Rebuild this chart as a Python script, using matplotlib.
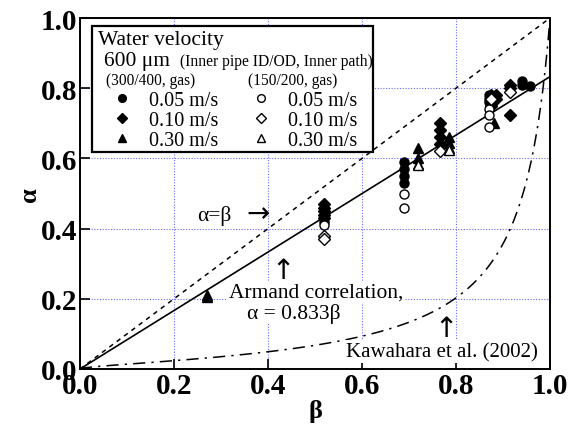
import numpy as np
import matplotlib
matplotlib.use("Agg")
import matplotlib.pyplot as plt
from matplotlib.patches import Rectangle

plt.rcParams['font.family'] = ['Liberation Serif', 'DejaVu Serif']
plt.rcParams['mathtext.fontset'] = 'stix'

# ---- data ----
# 300/400 (gas) -- filled markers
fc_beta = [0.69, 0.69, 0.69, 0.69, 0.87, 0.87, 0.87, 0.94, 0.94, 0.957, 0.52]
fc_alpha = [0.59, 0.57, 0.55, 0.53, 0.78, 0.77, 0.76, 0.82, 0.81, 0.805, 0.42]
fd_beta = [0.52, 0.52, 0.52, 0.52, 0.52, 0.765, 0.765, 0.765, 0.765,
           0.875, 0.875, 0.875, 0.885, 0.885, 0.915, 0.915, 0.915]
fd_alpha = [0.47, 0.46, 0.45, 0.44, 0.43, 0.70, 0.68, 0.66, 0.64,
            0.78, 0.76, 0.75, 0.78, 0.77, 0.81, 0.80, 0.725]
ft_beta = [0.27, 0.27, 0.72, 0.72, 0.785, 0.785, 0.88]
ft_alpha = [0.21, 0.205, 0.63, 0.60, 0.66, 0.645, 0.70]
# 150/200 (gas) -- open markers
oc_beta = [0.69, 0.69, 0.87, 0.87, 0.87, 0.52]
oc_alpha = [0.50, 0.46, 0.74, 0.725, 0.69, 0.41]
od_beta = [0.52, 0.52, 0.765, 0.915, 0.875]
od_alpha = [0.38, 0.37, 0.62, 0.79, 0.77]
ot_beta = [0.72, 0.72, 0.785, 0.785]
ot_alpha = [0.585, 0.58, 0.63, 0.625]

vel_labels = ["0.05 m/s", "0.10 m/s", "0.30 m/s"]
armand_c = 0.833

fig = plt.figure(figsize=(5.68, 4.35), dpi=100)
ax = fig.add_axes([80/568, 1-370/435, 470/568, 351/435])
ax.set_xlim(0, 1)
ax.set_ylim(0, 1)

gridc = '#6a6aff'
ax.grid(True, color=gridc, linestyle=(0, (1, 1.5)), linewidth=0.8)
ax.set_axisbelow(True)

# lines
ax.plot([0, 1], [0, 1], color='black', linestyle=(0, (3, 3)), linewidth=1.1, zorder=3)
ax.plot([0, 1], [0, armand_c], color='black', linestyle='-', linewidth=1.2, zorder=3)
bk = np.linspace(0, 0.9995, 600)
sk = np.sqrt(bk)
ak = 0.03 * sk / (1 - 0.97 * sk)
ax.plot(bk, ak, color='black', linestyle=(0, (8, 4, 1.5, 4)), linewidth=1.1, zorder=3)

ms = 6.5
hs = []
hs.append(ax.plot(fc_beta, fc_alpha, 'o', ms=ms, mfc='black', mec='black', zorder=5)[0])
hs.append(ax.plot(fd_beta, fd_alpha, 'D', ms=ms-0.5, mfc='black', mec='black', zorder=5)[0])
hs.append(ax.plot(ft_beta, ft_alpha, '^', ms=ms, mfc='black', mec='black', zorder=5)[0])
hs.append(ax.plot(oc_beta, oc_alpha, 'o', ms=ms, mfc='white', mec='black', mew=1.0, zorder=6)[0])
hs.append(ax.plot(od_beta, od_alpha, 'D', ms=ms-0.5, mfc='white', mec='black', mew=1.0, zorder=6)[0])
hs.append(ax.plot(ot_beta, ot_alpha, '^', ms=ms, mfc='white', mec='black', mew=1.0, zorder=6)[0])

# ticks
ticks = np.arange(0, 1.01, 0.2)
ax.set_xticks(ticks)
ax.set_yticks(ticks)
ax.set_xticklabels([f"{v:.1f}" for v in ticks])
ax.set_yticklabels([f"{v:.1f}" for v in ticks])
ax.tick_params(direction='in', length=7, width=1.2, labelsize=21, pad=2)
for lab in ax.get_xticklabels() + ax.get_yticklabels():
    lab.set_fontweight('bold')
for sp in ax.spines.values():
    sp.set_linewidth(1.4)

ax.set_xlabel('β', fontsize=19, fontweight='bold', labelpad=0)
ax.set_ylabel('α', fontsize=19, fontweight='bold', labelpad=0, rotation=90)

# annotations
wb = dict(facecolor='white', edgecolor='none', pad=1)
ax.text(0.249, 0.44, 'α=β', fontsize=15.5, ha='left', va='center', bbox=wb, zorder=4)
ax.text(0.355, 0.445, '→', fontsize=20, ha='left', va='center',
        family=['DejaVu Sans'], zorder=4)
ax.text(0.432, 0.282, '↑', fontsize=20, ha='center', va='center',
        family=['DejaVu Sans'], zorder=4)
ax.text(0.503, 0.219, 'Armand correlation,', fontsize=15.5, ha='center', va='center', bbox=wb, zorder=4)
ax.text(0.454, 0.160, 'α = 0.833β', fontsize=15.5, ha='center', va='center', bbox=wb, zorder=4)
ax.text(0.779, 0.117, '↑', fontsize=20, ha='center', va='center',
        family=['DejaVu Sans'], zorder=4)
ax.text(0.77, 0.05, 'Kawahara et al. (2002)', fontsize=15, ha='center', va='center', bbox=wb, zorder=4)

# legend frame and headers
def axx(px):
    return (px - 80) / 470
def axy(py):
    return (370 - py) / 351

frame = Rectangle((axx(92), axy(153)), axx(373) - axx(92), axy(27) - axy(153),
                  transform=ax.transAxes, facecolor='white', edgecolor='black',
                  linewidth=1.6, zorder=7)
ax.add_patch(frame)
ax.text(axx(98), axy(45), 'Water velocity', transform=ax.transAxes, fontsize=15.5,
        va='baseline', ha='left', zorder=8)
ax.text(axx(104), axy(66), '600 μm', transform=ax.transAxes, fontsize=15.5,
        va='baseline', ha='left', zorder=8)
ax.text(axx(180), axy(66), '(Inner pipe ID/OD, Inner path)', transform=ax.transAxes,
        fontsize=11.2, va='baseline', ha='left', zorder=8)
ax.text(axx(106), axy(85), '(300/400, gas)', transform=ax.transAxes, fontsize=11.2,
        va='baseline', ha='left', zorder=8)
ax.text(axx(248), axy(85), '(150/200, gas)', transform=ax.transAxes, fontsize=11.2,
        va='baseline', ha='left', zorder=8)

leg = ax.legend(hs, vel_labels + vel_labels, ncol=2, loc='upper left',
                bbox_to_anchor=(axx(112), axy(92)), frameon=False, fontsize=14.5,
                handlelength=1.0, handletextpad=0.85, columnspacing=1.6,
                labelspacing=0.05, borderpad=0.0, borderaxespad=0.0, markerscale=0.85)
leg.set_zorder(9)

fig.savefig('out.png', dpi=100)
